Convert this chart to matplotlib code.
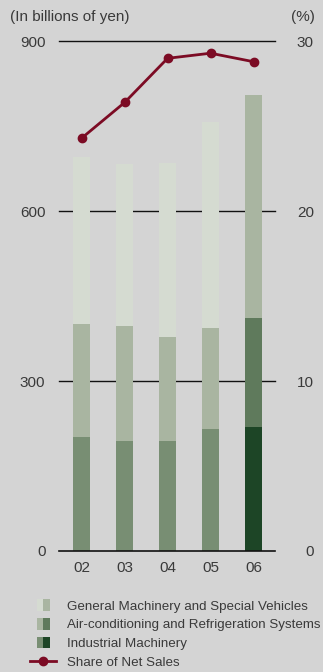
import matplotlib
matplotlib.use("Agg")
import matplotlib.pyplot as plt
import numpy as np
from matplotlib.patches import Rectangle
from matplotlib.lines import Line2D
from matplotlib.legend_handler import HandlerBase

plt.rcParams['font.family'] = ['Liberation Sans', 'DejaVu Sans']

years = ["02", "03", "04", "05", "06"]
industrial = [202, 195, 195, 216, 219]
aircon = [199, 202, 183, 178, 193]
general = [295, 287, 308, 364, 393]
share = [24.3, 26.4, 29.0, 29.3, 28.8]

# past years in muted tones, latest year in deeper tones
light = {"general": "#d5dbd1", "aircon": "#a9b5a1", "industrial": "#788e73"}
dark = {"general": "#a9b5a1", "aircon": "#5f7a5c", "industrial": "#1d4526"}
line_color = "#7c0b24"
text_color = "#3a3a3a"
bg = "#d4d4d4"


class TwoToneHandler(HandlerBase):
    """Legend key split into a light left half and a dark right half."""

    def __init__(self, frac=0.5, hfrac=1.0, **kw):
        super().__init__(**kw)
        self.frac = frac
        self.hfrac = hfrac

    def create_artists(self, legend, orig_handle, xdescent, ydescent,
                       width, height, fontsize, trans):
        c_light, c_dark = orig_handle
        sw = width * self.frac
        sh = height * self.hfrac
        x0 = -xdescent + (width - sw) / 2
        y0 = -ydescent + (height - sh) / 2
        r1 = Rectangle((x0, y0), sw / 2, sh, facecolor=c_light,
                       edgecolor="none", transform=trans)
        r2 = Rectangle((x0 + sw / 2, y0), sw / 2, sh,
                       facecolor=c_dark, edgecolor="none", transform=trans)
        return [r1, r2]


class Swatch(tuple):
    pass


fig = plt.figure(figsize=(3.23, 6.72), dpi=100, facecolor=bg)
ax = fig.add_axes([0.1836, 0.1801, 0.6678, 0.7584])
ax.set_facecolor("none")

x = np.arange(len(years))
n = len(years)
cols_ind = [light["industrial"]] * (n - 1) + [dark["industrial"]]
cols_air = [light["aircon"]] * (n - 1) + [dark["aircon"]]
cols_gen = [light["general"]] * (n - 1) + [dark["general"]]

w = 0.4
ax.bar(x, industrial, w, color=cols_ind, zorder=3)
bot2 = np.array(industrial)
ax.bar(x, aircon, w, bottom=bot2, color=cols_air, zorder=3)
bot3 = bot2 + np.array(aircon)
ax.bar(x, general, w, bottom=bot3, color=cols_gen, zorder=3)

for yv in (300, 600, 900):
    ax.axhline(yv, color="#111111", lw=1.0, zorder=1, clip_on=False)
ax.axhline(0, color="#111111", lw=1.2, zorder=4, clip_on=False)

ax.set_xlim(-0.52, 4.5)
ax.set_ylim(0, 900)
ax.set_yticks([0, 300, 600, 900])
ax.set_xticks(x)
ax.set_xticklabels(years)
for s in ax.spines.values():
    s.set_visible(False)
ax.tick_params(axis="both", length=0, labelsize=11, colors=text_color)
ax.tick_params(axis="y", pad=10)
ax.tick_params(axis="x", pad=7)

ax2 = ax.twinx()
ax2.set_ylim(0, 30)
ax2.set_yticks([0, 10, 20, 30])
for s in ax2.spines.values():
    s.set_visible(False)
ax2.tick_params(axis="y", length=0, labelsize=11, colors=text_color, pad=28)
for lab in ax2.get_yticklabels():
    lab.set_horizontalalignment("right")
ax2.plot(x, share, color=line_color, lw=2, marker="o", ms=6, zorder=5)

fig.text(0.03, 0.975, "(In billions of yen)", fontsize=11, color=text_color,
         ha="left", va="center")
fig.text(0.975, 0.975, "(%)", fontsize=11, color=text_color,
         ha="right", va="center")

handles = [
    Swatch((light["general"], dark["general"])),
    Swatch((light["aircon"], dark["aircon"])),
    Swatch((light["industrial"], dark["industrial"])),
    Line2D([], [], color=line_color, lw=2, marker="o", ms=6),
]
labels = ["General Machinery and Special Vehicles",
          "Air-conditioning and Refrigeration Systems",
          "Industrial Machinery",
          "Share of Net Sales"]
leg = fig.legend(handles, labels, loc="upper left",
                 bbox_to_anchor=(0.093, 0.108), frameon=False,
                 fontsize=9.6, labelcolor=text_color,
                 handler_map={Swatch: TwoToneHandler()},
                 handlelength=1.95, handleheight=0.95, handletextpad=0.8,
                 labelspacing=0.4, borderpad=0, borderaxespad=0)

fig.savefig("out.png", dpi=100, facecolor=bg)
